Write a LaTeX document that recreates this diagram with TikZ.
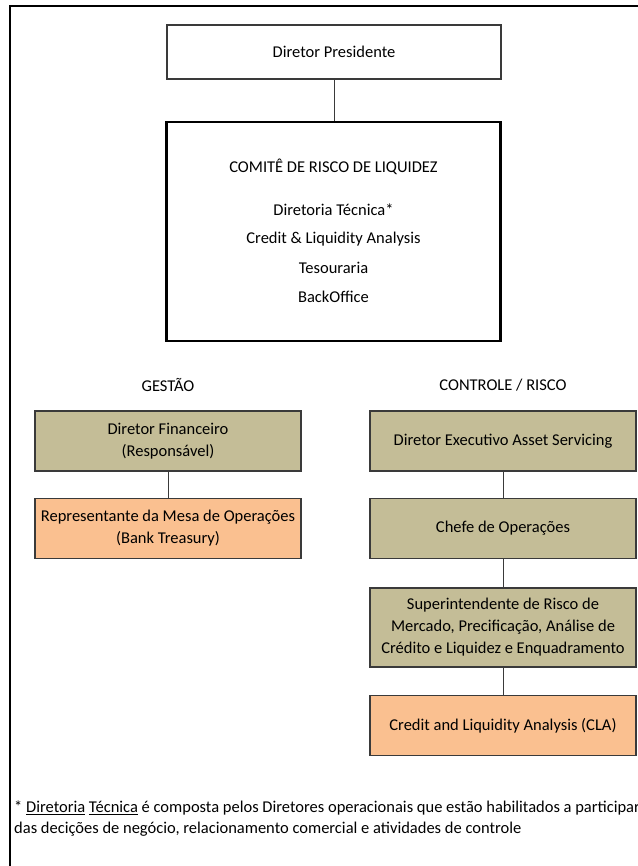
\documentclass[tikz,border=0pt]{standalone}
\usepackage{fontspec}
\setmainfont{Carlito}
\usetikzlibrary{positioning}
\definecolor{khaki}{HTML}{C4BD97}
\definecolor{peach}{HTML}{FAC090}
\definecolor{edge}{HTML}{3A3A3A}

\begin{document}
\begin{tikzpicture}[x=1pt, y=-1pt, font=\fontsize{16.5}{22}\selectfont,
  boxw/.style={draw=edge, line width=1.2pt, fill=white, minimum width=334pt, minimum height=54pt, inner sep=0pt},
  unit/.style={draw=edge, line width=1.2pt, minimum width=266pt, minimum height=60pt, inner sep=0pt, align=center},
  gest/.style={unit, fill=khaki},
  oper/.style={unit, fill=peach},
  link/.style={draw=edge, line width=1pt}]
\useasboundingbox (0,0) rectangle (637,866);
\draw[line width=2.5pt] (10,880) -- (10,6) -- (650,6);

\node[boxw] (pres) at (334,52) {Diretor Presidente};
\node[draw=black, line width=2.6pt, minimum width=334pt, minimum height=219pt, inner sep=0pt] (comite) at (333.5,231.5) {};
\node (ctitle) at (333.5,167) {COMITÊ DE RISCO DE LIQUIDEZ};
\node (cdt) at (333.5,210) {Diretoria Técnica*};
\node (ccla) at (333.5,239) {Credit \& Liquidity Analysis};
\node (ctes) at (333.5,268) {Tesouraria};
\node (cbo) at (333.5,297) {BackOffice};
\draw[link] (pres) -- (pres |- comite.north);

% gestao
\node (hgest) at (168,385) {GESTÃO};
\node[gest] (fin) at (168,441) {Diretor Financeiro\\(Responsável)};
\node[oper] (mesa) at (168,528.5) {Representante da Mesa de Operações\\(Bank Treasury)};
\draw[link] (fin) -- (mesa);

% controle / risco
\node (hctrl) at (503,385) {CONTROLE / RISCO};
\node[gest] (exec) at (503,441) {Diretor Executivo Asset Servicing};
\node[gest] (chefe) at (503,528.5) {Chefe de Operações};
\node[gest, minimum height=79pt] (sup) at (503,627.5) {Superintendente de Risco de\\Mercado, Precificação, Análise de\\Crédito e Liquidez e Enquadramento};
\node[oper] (cla) at (503,725.5) {Credit and Liquidity Analysis (CLA)};
\draw[link] (exec) -- (chefe);
\draw[link] (chefe) -- (sup);
\draw[link] (sup) -- (cla);

% nota
\node[anchor=west, inner sep=0pt] (nota1) at (14,808) {* \underline{Diretoria} \underline{Técnica} é composta pelos Diretores operacionais que estão habilitados a participar};
\node[anchor=west, inner sep=0pt] (nota2) at (14,829) {das decições de negócio, relacionamento comercial e atividades de controle};
\end{tikzpicture}
\end{document}
